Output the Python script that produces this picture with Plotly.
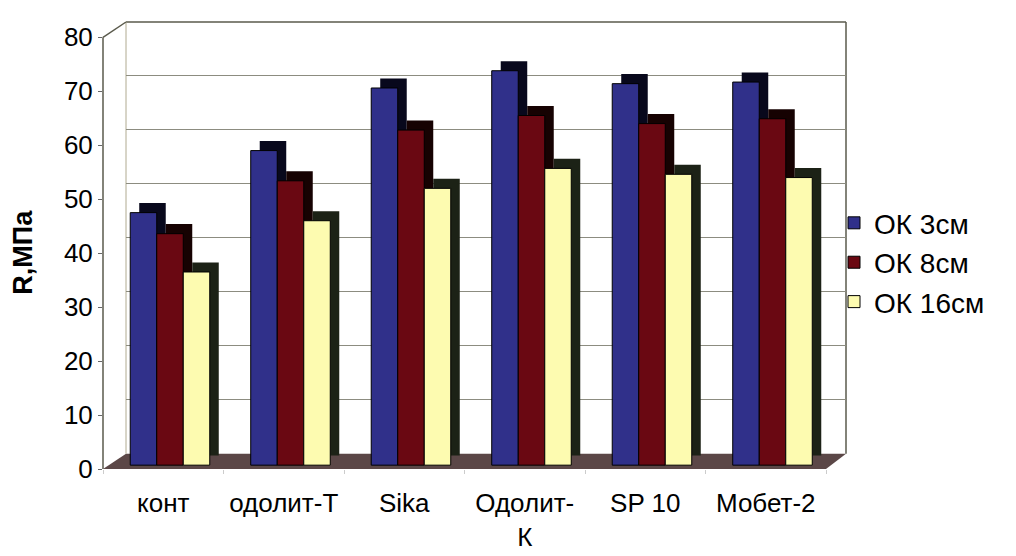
import plotly.graph_objects as go

categories = ["конт", "одолит-Т", "Sika", "Одолит-<br>К", "SP 10", "Мобет-2"]
series_names = ["ОК 3см", "ОК 8см", "ОК 16см"]
ok3 = [46.8, 58.3, 69.9, 73.1, 70.7, 71.0]
ok8 = [42.9, 52.7, 62.1, 64.8, 63.3, 64.2]
ok16 = [35.8, 45.3, 51.3, 55.0, 53.9, 53.3]
y_ticks = [0, 10, 20, 30, 40, 50, 60, 70, 80]

face_colors = ["#30308a", "#6a0812", "#fdfbb0"]
side_colors = ["#08081c", "#160202", "#1c2216"]

# geometry (pixels) -> paper
SHIFT = -5
L, T, B = 100 + SHIFT, 14, 75
W = 743
R = 1016 - L - W
H = 556 - T - B
def px(x):
    return (x + SHIFT - L) / W
def py(y):
    return (T + H - y) / H

ppu = 5.6375          # pixels per value unit
dz = 10 / ppu         # depth lift of bar side face
dx = 9 / 120.5        # depth shift of bar side face (category units)
offsets = [-0.274, -0.054, 0.166]
bw = 0.22

fig = go.Figure()
# empty helper traces so the back-wall grid and the front value axis are drawn
fig.add_trace(go.Scatter(x=[], y=[], xaxis="x", yaxis="y", showlegend=False, hoverinfo="skip"))
fig.add_trace(go.Scatter(x=[], y=[], xaxis="x2", yaxis="y3", showlegend=False, hoverinfo="skip"))

all_vals = [ok3, ok8, ok16]
for i, vals in enumerate(all_vals):
    fig.add_trace(go.Bar(x=categories, y=vals, base=dz, offset=offsets[i] + dx, width=bw,
                         marker=dict(color=side_colors[i], line=dict(width=0)),
                         showlegend=False, hoverinfo="skip", xaxis="x2", yaxis="y2"))
for i, vals in enumerate(all_vals):
    fig.add_trace(go.Bar(x=categories, y=vals, offset=offsets[i], width=bw, name=series_names[i],
                         legendgroup=series_names[i],
                         marker=dict(color=face_colors[i], line=dict(color="#000000", width=1)),
                         xaxis="x2", yaxis="y2"))

frame = "#5a5a4c"
shapes = [
    dict(type="path", xref="paper", yref="paper", layer="below",
         path=f"M {px(100)},{py(481)} L {px(823)},{py(481)} L {px(843)},{py(465)} L {px(123)},{py(465)} Z",
         fillcolor="#5b4747", line=dict(width=0)),
    dict(type="line", xref="paper", yref="paper", layer="below", x0=px(123), y0=py(14), x1=px(843), y1=py(14), line=dict(color=frame, width=1.5)),
    dict(type="line", xref="paper", yref="paper", layer="below", x0=px(843), y0=py(14), x1=px(843), y1=py(465), line=dict(color=frame, width=1.5)),
    dict(type="line", xref="paper", yref="paper", layer="below", x0=px(123), y0=py(14), x1=px(123), y1=py(465), line=dict(color="#b0aa90", width=1)),
    dict(type="line", xref="paper", yref="paper", layer="below", x0=px(100), y0=py(30), x1=px(100), y1=py(481), line=dict(color=frame, width=1.5)),
    dict(type="line", xref="paper", yref="paper", layer="below", x0=px(100), y0=py(30), x1=px(123), y1=py(14), line=dict(color=frame, width=1.5)),
]

fam = "Liberation Sans, Arial, sans-serif"
font = dict(family=fam, size=26, color="#000000")

fig.update_layout(
    width=1016, height=556,
    margin=dict(l=L, r=R, t=T, b=B),
    paper_bgcolor="#ffffff", plot_bgcolor="rgba(0,0,0,0)",
    barmode="overlay",
    font=font,
    showlegend=True,
    legend=dict(x=(826 - L) / W, y=py(198), xanchor="left", yanchor="top",
                font=dict(family=fam, size=28, color="#000000"),
                traceorder="grouped", tracegroupgap=0, bgcolor="rgba(0,0,0,0)"),
    xaxis=dict(domain=[px(123), px(843)], anchor="y", visible=False, range=[0, 1]),
    yaxis=dict(domain=[py(465), 1.0], anchor="x", range=[0, 80], tickvals=y_ticks,
               showticklabels=False, showgrid=True, gridcolor="#8c8c80", gridwidth=1,
               zeroline=False, ticks=""),
    xaxis2=dict(domain=[px(100), px(823)], anchor="y2", type="category", range=[-0.5, 5.5],
                showgrid=False, showline=False, zeroline=False,
                ticks="outside", tickson="boundaries", ticklen=4, tickcolor="#cccccc",
                ticklabelstandoff=16, tickfont=font),
    yaxis2=dict(domain=[0, 1], anchor="x2", range=[-4 / ppu, (H - 4) / ppu], visible=False),
    yaxis3=dict(overlaying="y2", anchor="x2", side="left", range=[0, H / ppu],
                tickvals=y_ticks, showgrid=False, zeroline=False, showline=False,
                ticks="outside", ticklen=4, tickcolor="#666666", tickfont=font),
    shapes=shapes,
    annotations=[dict(text="<b>R,МПа</b>", xref="paper", yref="paper", x=px(20), y=py(255),
                      xanchor="center", yanchor="middle",
                      textangle=-90, showarrow=False, font=dict(size=27, color="#000000", family=fam))],
)

fig.write_html("out.html")
